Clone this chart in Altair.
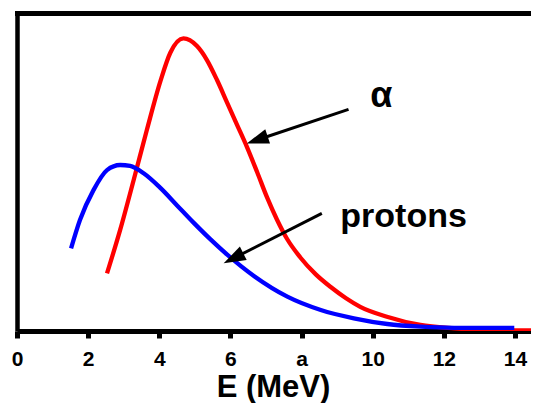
import altair as alt
import pandas as pd

# ---- data ----
energy_alpha = [2.53, 2.90, 3.28, 3.65, 4.03, 4.31, 4.68, 5.06, 5.34, 5.62, 5.90, 6.18, 6.46,
                6.75, 7.03, 7.31, 7.59, 7.96, 8.40, 8.81, 9.25, 9.65, 10.40, 11.34, 12.28,
                13.21, 14.45]
counts_alpha = [18.1, 31.8, 47.5, 63.2, 78.5, 87.5, 92.0, 89.6, 85.2, 79.0, 72.0, 65.0, 58.0,
                50.0, 42.0, 35.0, 29.0, 23.2, 17.8, 13.9, 10.3, 7.6, 4.5, 1.9, 0.85,
                0.3, 0.2]

energy_proton = [1.52, 1.77, 2.15, 2.53, 2.90, 3.18, 3.56, 4.03, 4.50, 4.97, 5.44, 5.91,
                 6.66, 7.60, 8.54, 9.47, 10.41, 11.35, 12.29, 13.98]
counts_proton = [26.0, 34.9, 44.3, 50.6, 52.2, 51.9, 49.6, 45.0, 39.5, 34.0, 28.8, 24.0,
                 17.3, 10.8, 6.6, 4.0, 2.2, 1.35, 1.0, 1.0]

tick_values = [0, 2, 4, 6, 8, 10, 12, 14]
tick_labels = ["0", "2", "4", "6", "a", "10", "12", "14"]

label_texts = ["α", "protons"]
label_x = [9.93, 9.09]
label_y = [70.5, 32.8]
label_sizes = [36, 34]

arrow_x_start = [9.32, 8.57]
arrow_y_start = [69.7, 37.0]
arrow_x_tip = [6.46, 5.81]
arrow_y_tip = [59.0, 21.3]
arrow_angle = [161.5, 153.1]

X_MAX = 14.45
W, H = 514, 318
FONT = "Liberation Sans"

# ---- tables ----
curves = pd.concat([
    pd.DataFrame({"E": energy_alpha, "N": counts_alpha, "s": "alpha"}),
    pd.DataFrame({"E": energy_proton, "N": counts_proton, "s": "protons"}),
])
labels_df = pd.DataFrame({"t": label_texts, "x": label_x, "y": label_y, "size": label_sizes})
arrows_df = pd.DataFrame({
    "x": arrow_x_start, "y": arrow_y_start,
    "x2": [t + 0.1 * (s - t) for s, t in zip(arrow_x_start, arrow_x_tip)],
    "y2": [t + 0.1 * (s - t) for s, t in zip(arrow_y_start, arrow_y_tip)],
    "tx": arrow_x_tip, "ty": arrow_y_tip, "a": arrow_angle,
})

label_expr = " : ".join(
    [f"datum.value == {v} ? '{l}'" for v, l in zip(tick_values, tick_labels)] + ["datum.label"]
)

xscale = alt.Scale(domain=[0, X_MAX], nice=False, zero=False)
yscale = alt.Scale(domain=[0, 100], nice=False)

xaxis = alt.Axis(values=tick_values, labelExpr=label_expr, title="E (MeV)", grid=False,
                 domainColor="black", domainWidth=5, tickColor="black", tickWidth=5, tickSize=7,
                 labelFont=FONT, labelFontSize=21, labelFontWeight="bold", labelColor="black",
                 labelBaseline="alphabetic", labelPadding=27, labelFlush=False,
                 titleFont=FONT, titleFontSize=31, titleFontWeight="bold", titleColor="black",
                 titleBaseline="alphabetic", titleY=65, titleX=256, titleAlign="center")
yaxis = alt.Axis(title=None, labels=False, ticks=False, grid=False,
                 domainColor="black", domainWidth=4.5)

lines = alt.Chart(curves).mark_line(strokeWidth=4.3, interpolate="monotone", clip=True).encode(
    x=alt.X("E:Q", scale=xscale, axis=xaxis),
    y=alt.Y("N:Q", scale=yscale, axis=yaxis),
    color=alt.Color("s:N", scale=alt.Scale(domain=["alpha", "protons"], range=["#ff0000", "#0000ff"]),
                    legend=None),
    detail="s:N",
)

top_line = alt.Chart(labels_df).mark_rule(color="black", strokeWidth=5).encode(
    x=alt.value(-2), x2=alt.value(W), y=alt.value(0.5)
)

arrow_lines = alt.Chart(arrows_df).mark_rule(color="black", strokeWidth=3).encode(
    x=alt.X("x:Q", scale=xscale), y=alt.Y("y:Q", scale=yscale),
    x2="x2:Q", y2="y2:Q",
)

arrow_heads = alt.Chart(arrows_df).mark_point(
    shape="M0,0 L-2.2,-0.75 L-2.2,0.75 Z", filled=True, color="black", opacity=1, size=400
).encode(
    x=alt.X("tx:Q", scale=xscale), y=alt.Y("ty:Q", scale=yscale),
    angle=alt.Angle("a:Q", scale=None),
)

text = alt.Chart(labels_df).mark_text(
    font=FONT, fontWeight="bold", color="black", align="left", baseline="alphabetic"
).encode(
    x=alt.X("x:Q", scale=xscale), y=alt.Y("y:Q", scale=yscale), text="t:N",
    size=alt.Size("size:Q", scale=None, legend=None),
)

chart = alt.layer(lines, top_line, arrow_lines, arrow_heads, text).properties(
    width=W, height=H,
    autosize=alt.AutoSizeParams(type="none"),
    padding={"left": 9, "top": 5, "right": 0, "bottom": 72},
).configure_view(stroke=None)

chart.save("out.html", embed_options={"renderer": "svg", "actions": False})
